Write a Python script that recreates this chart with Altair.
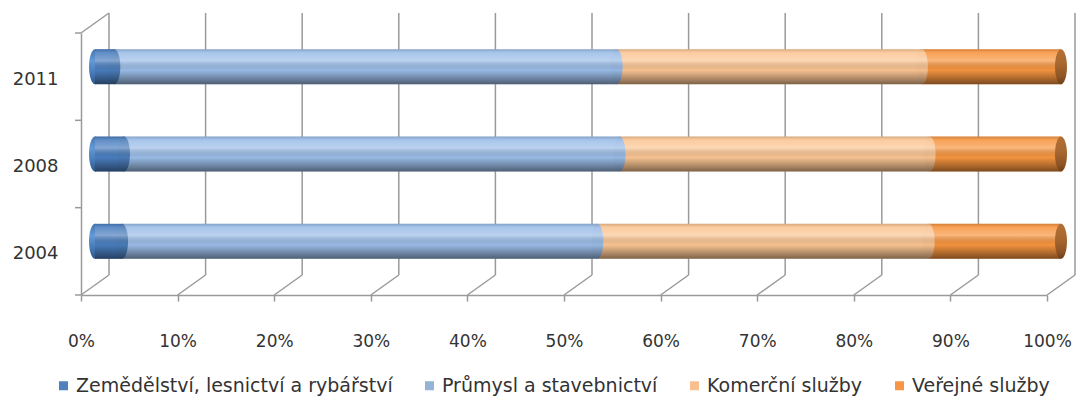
import altair as alt
import pandas as pd

# ---- data ----
years = ["2011", "2008", "2004"]
series = ["Zemědělství, lesnictví a rybářství", "Průmysl a stavebnictví",
          "Komerční služby", "Veřejné služby"]
agri = [2.0, 3.0, 2.8]
industry = [52.0, 51.3, 49.2]
commercial = [31.6, 32.1, 34.3]
public = [14.4, 13.6, 13.7]
x_ticks = [0, 10, 20, 30, 40, 50, 60, 70, 80, 90, 100]

legend_colors = ["#4F81BD", "#95B3D7", "#FABF8F", "#F79646"]
bar_colors = ["#4A7EC0", "#9BBDE8", "#FBC593", "#F7953F"]
cap_colors = ["#4A7CB8", "#98BAE5", "#F9C290", "#A5652E"]

FONT = "DejaVu Sans"
TXT = "#333333"
GRID = "#9A9A9A"
W, H = 966, 262
DX, DY = 28, -20          # depth offset of the back wall
BX, BY = 14, -10          # bars sit half-way in depth

# ---- build tables ----
rows = []
caps = []
for i, y in enumerate(years):
    vals = [agri[i], industry[i], commercial[i], public[i]]
    start = 0.0
    for s, v, bc in zip(series, vals, bar_colors):
        end = start + v
        rows.append({"year": y, "series": s, "start": start, "end": end,
                     "barc": bc, "zero": 0})
        start = end
    acc = 0.0
    for k in range(3):
        acc += vals[k]
        caps.append({"year": y, "pos": acc, "capc": cap_colors[k]})
seg = pd.DataFrame(rows)
mid_caps = pd.DataFrame(caps)
ends = pd.DataFrame({"year": years, "zero": [0] * 3, "full": [100] * 3})
ticks = pd.DataFrame({"pct": x_ticks})
one = pd.DataFrame({"pct": [0]})

xscale = alt.Scale(domain=[0, 100], nice=False, zero=True)
yscale = alt.Scale(domain=years, paddingInner=0, paddingOuter=0)

xaxis = alt.Axis(values=x_ticks, labelExpr="datum.value + '%'", grid=False,
                 labelFlush=False, labelOverlap=False,
                 domainColor=GRID, domainWidth=1.5, tickColor=GRID, tickWidth=1.5,
                 tickSize=6, labelPadding=32, labelFont=FONT, labelFontSize=17,
                 labelColor=TXT, title=None)
yaxis = alt.Axis(ticks=False, domainColor=GRID, domainWidth=1.5, labelPadding=23,
                 labelFont=FONT, labelFontSize=18, labelColor=TXT, labelOffset=3,
                 title=None)

ellipse = ("M0,-1 C0.189,-1 0.343,-0.552 0.343,0 C0.343,0.552 0.189,1 0,1 "
           "C-0.189,1 -0.343,0.552 -0.343,0 C-0.343,-0.552 -0.189,-1 0,-1 Z")
CAP_SIZE = 35 * 35

def grad(stops):
    return alt.LinearGradient(
        gradient="linear", x1=0, x2=0, y1=0, y2=1,
        stops=[alt.GradientStop(color=c, offset=o) for o, c in stops])

overlay_grad = grad([(0, "rgba(0,0,0,0.15)"), (0.1, "rgba(255,255,255,0.12)"),
                     (0.33, "rgba(255,255,255,0.32)"), (0.6, "rgba(0,0,0,0.02)"),
                     (0.88, "rgba(0,0,0,0.35)"), (1, "rgba(0,0,0,0.5)")])
left_grad = grad([(0, "#4576B0"), (0.33, "#6498D6"), (0.7, "#4678B5"), (1, "#2F5687")])
right_grad = grad([(0, "#B27036"), (0.4, "#A9682F"), (0.8, "#8E5424"), (1, "#6E3F19")])

back_grid = alt.Chart(ticks).mark_rule(
    color=GRID, strokeWidth=1.5, xOffset=DX, x2Offset=DX, yOffset=DY, y2Offset=DY
).encode(x=alt.X("pct:Q", scale=xscale, axis=xaxis), x2="pct:Q",
         y=alt.value(0), y2=alt.value(H))

floor_diag = alt.Chart(ticks).mark_rule(
    color=GRID, strokeWidth=1.5, x2Offset=DX, y2Offset=DY
).encode(x=alt.X("pct:Q", scale=xscale), x2="pct:Q",
         y=alt.value(H), y2=alt.value(H))

top_diag = alt.Chart(one).mark_rule(
    color=GRID, strokeWidth=1.5, x2Offset=DX, y2Offset=DY
).encode(x=alt.X("pct:Q", scale=xscale), x2="pct:Q",
         y=alt.value(0), y2=alt.value(0))

yticks = alt.Chart(ends).mark_rule(color=GRID, strokeWidth=1.5).encode(
    x=alt.value(-6), x2=alt.value(0),
    y=alt.Y("year:N", scale=yscale, sort=years, bandPosition=0, axis=yaxis))
ytick_bottom = alt.Chart(one).mark_rule(color=GRID, strokeWidth=1.5).encode(
    x=alt.value(-6), x2=alt.value(0), y=alt.value(H))

# zero-width layer that only carries the legend
legend_layer = alt.Chart(seg).mark_bar(size=35).encode(
    x=alt.X("zero:Q", scale=xscale), x2="zero:Q",
    y=alt.Y("year:N", sort=years),
    color=alt.Color("series:N", scale=alt.Scale(domain=series, range=legend_colors),
                    legend=alt.Legend(orient="none", legendX=-27, legendY=343,
                                      direction="horizontal", columns=4,
                                      symbolType="square", symbolSize=81,
                                      symbolStrokeWidth=0, symbolOpacity=1,
                                      labelFont=FONT, labelFontSize=19,
                                      labelColor=TXT, labelOffset=3,
                                      columnPadding=27, labelLimit=400,
                                      padding=0, title=None)))

left_caps = alt.Chart(ends).mark_point(
    shape=ellipse, size=CAP_SIZE, filled=True, fill=left_grad, strokeWidth=0,
    opacity=1, xOffset=BX, yOffset=BY
).encode(x=alt.X("zero:Q", scale=xscale), y=alt.Y("year:N", sort=years))

bars = alt.Chart(seg).mark_bar(size=35, xOffset=BX, x2Offset=BX, yOffset=BY).encode(
    x=alt.X("start:Q", scale=xscale), x2="end:Q",
    y=alt.Y("year:N", sort=years),
    fill=alt.Fill("barc:N", scale=None))

mid = alt.Chart(mid_caps).mark_point(
    shape=ellipse, size=CAP_SIZE, filled=True, strokeWidth=0, opacity=1,
    xOffset=BX, yOffset=BY
).encode(x=alt.X("pos:Q", scale=xscale), y=alt.Y("year:N", sort=years),
         fill=alt.Fill("capc:N", scale=None))

shade = alt.Chart(ends).mark_bar(size=35, xOffset=BX, x2Offset=BX, yOffset=BY,
                                 color=overlay_grad).encode(
    x=alt.X("zero:Q", scale=xscale), x2="full:Q", y=alt.Y("year:N", sort=years))

right_caps = alt.Chart(ends).mark_point(
    shape=ellipse, size=CAP_SIZE, filled=True, fill=right_grad, strokeWidth=0,
    opacity=1, xOffset=BX, yOffset=BY
).encode(x=alt.X("full:Q", scale=xscale), y=alt.Y("year:N", sort=years))

chart = alt.layer(
    back_grid, floor_diag, top_diag, yticks, ytick_bottom, legend_layer,
    left_caps, bars, mid, shade, right_caps
).properties(
    width=W, height=H,
    autosize=alt.AutoSizeParams(type="none"),
    padding={"left": 73, "top": 25, "right": 30, "bottom": 103},
    background="white"
).configure_view(stroke=None)

chart.save("out.html", embed_options={"renderer": "svg", "actions": False})
